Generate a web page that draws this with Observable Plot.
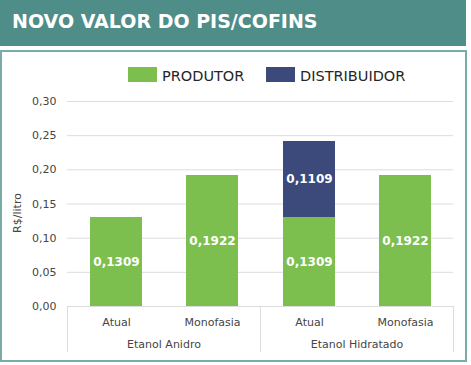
<!DOCTYPE html>
<html><head><meta charset="utf-8">
<script src="https://cdn.jsdelivr.net/npm/d3@7"></script>
<script src="https://cdn.jsdelivr.net/npm/@observablehq/plot@0.6"></script>
<style>
body{margin:0;background:#fff;font-family:"DejaVu Sans",Verdana,sans-serif;}
#wrap{position:relative;width:471px;height:365px;overflow:hidden;background:#fff;}
#banner{position:absolute;left:0;top:0;width:466px;height:46px;background:#4f8d88;}
#title{position:absolute;left:12px;top:12px;color:#fff;font-weight:bold;font-size:19px;line-height:18.5px;white-space:nowrap;}
#box{position:absolute;left:0;top:50px;width:463px;height:308px;border:2px solid #7aaca7;}
.sw{position:absolute;width:29px;height:15px;}
.lt{position:absolute;font-size:14.5px;line-height:15px;color:#262626;white-space:nowrap;}
#chart{position:absolute;left:0;top:90px;}
</style></head>
<body>
<div id="wrap">
  <div id="banner"><div id="title">NOVO VALOR DO PIS/COFINS</div></div>
  <div id="box"></div>
  <div id="legend"></div>
  <div id="chart"></div>
</div>
<script>
const groupNames = ["Etanol Anidro", "Etanol Hidratado"];
const categories = ["Atual", "Monofasia"];
const series = ["PRODUTOR", "DISTRIBUIDOR"];
// order: Anidro-Atual, Anidro-Monofasia, Hidratado-Atual, Hidratado-Monofasia
const barGroups = ["Etanol Anidro", "Etanol Anidro", "Etanol Hidratado", "Etanol Hidratado"];
const barCats = ["Atual", "Monofasia", "Atual", "Monofasia"];
const produtor = [0.1309, 0.1922, 0.1309, 0.1922];
const distribuidor = [0, 0, 0.1109, 0];
const yTicks = [0, 0.05, 0.10, 0.15, 0.20, 0.25, 0.30];
const colors = ["#7dbf4f", "#3b4a7b"];

const rows = [];
barGroups.forEach((g, i) => {
  if (produtor[i]) rows.push({group: g, sub: barCats[i], serie: series[0], value: produtor[i]});
  if (distribuidor[i]) rows.push({group: g, sub: barCats[i], serie: series[1], value: distribuidor[i]});
});

const fmt2 = d => d.toFixed(2).replace(".", ",");
const fmt4 = d => d.toFixed(4).replace(".", ",");

// legend (HTML, above the chart)
const legend = document.getElementById("legend");
const legPos = [[128, 162], [266, 300]];
series.forEach((s, i) => {
  const sw = document.createElement("div");
  sw.className = "sw";
  sw.style.left = legPos[i][0] + "px";
  sw.style.top = "67px";
  sw.style.background = colors[i];
  legend.appendChild(sw);
  const t = document.createElement("div");
  t.className = "lt";
  t.style.left = legPos[i][1] + "px";
  t.style.top = "69px";
  t.textContent = s;
  legend.appendChild(t);
});

const plot = Plot.plot({
  width: 467,
  height: 270,
  marginLeft: 67,
  marginRight: 14,
  marginTop: 11,
  marginBottom: 54,
  style: {fontFamily: "DejaVu Sans", fontSize: "11px", color: "#454545", background: "transparent"},
  facet: {data: rows, x: "group"},
  fx: {domain: groupNames, padding: 0, axis: "bottom", label: null, tickSize: 0, tickPadding: 34},
  x: {domain: categories, paddingInner: 0.46, paddingOuter: 0.23, axis: "bottom", label: null, tickSize: 0, tickPadding: 12},
  y: {domain: [0, 0.30], ticks: yTicks, tickFormat: fmt2, tickSize: 0, tickPadding: 11, label: "R$/litro", labelAnchor: "center", labelOffset: 54},
  color: {domain: series, range: colors},
  marks: [
    Plot.ruleY(yTicks, {stroke: "#dcdcdc", strokeWidth: 1}),
    Plot.barY(rows, {x: "sub", y: "value", fill: "serie", shapeRendering: "crispEdges"}),
    Plot.text(rows, Plot.stackY({x: "sub", y: "value", text: d => fmt4(d.value), fill: "white", fontWeight: "bold", fontSize: 12}))
  ]
});

document.getElementById("chart").appendChild(plot);

const svg = d3.select(plot.tagName.toLowerCase() === "svg" ? plot : plot.querySelector("svg"));

// remove the axis-label arrow and nudge it like the reference
svg.selectAll("text").each(function() {
  if (this.textContent.includes("R$/litro")) {
    d3.select(this).text("R$/litro").attr("dx", -9);
  }
});

// category separators below the baseline, derived from the fx / y scales
const fxS = plot.scale("fx");
const yS = plot.scale("y");
const y0 = yS.range[0];
const step = fxS.step || fxS.bandwidth;
const bounds = d3.range(groupNames.length + 1).map(i => fxS.range[0] + i * step);
svg.append("g").selectAll("line").data(bounds).join("line")
  .attr("x1", d => d + 0.5).attr("x2", d => d + 0.5)
  .attr("y1", y0).attr("y2", y0 + 46)
  .attr("stroke", "#dcdcdc");

svg.selectAll('g[aria-label="x-axis"], g[aria-label="fx-axis"]').style("font-size", "10.5px");
</script>
</body></html>
